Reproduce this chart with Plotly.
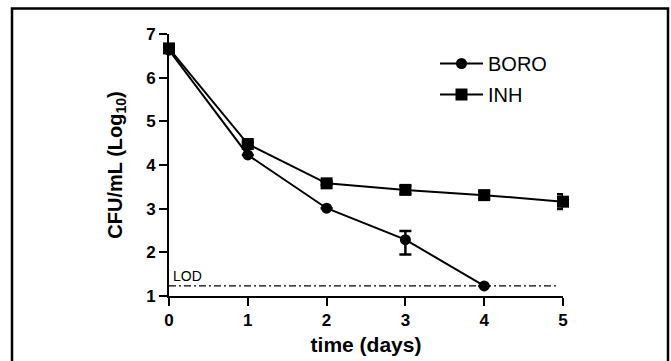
import plotly.graph_objects as go

# ---- data ----
days_boro = [0, 1, 2, 3, 4]
boro = [6.63, 4.23, 3.01, 2.29, 1.23]
boro_err_plus = [0, 0, 0, 0.20, 0]
boro_err_minus = [0, 0, 0, 0.34, 0]

days_inh = [0, 1, 2, 3, 4, 5]
inh = [6.67, 4.48, 3.58, 3.43, 3.31, 3.16]
inh_err = [0.05, 0.04, 0.04, 0.09, 0.09, 0.17]

lod_x = [0, 4.95]
lod_value = 1.23

x_ticks = [0, 1, 2, 3, 4, 5]
y_ticks = [1, 2, 3, 4, 5, 6, 7]

W, H = 671, 361
ML, MR, MT, MB = 169, 108, 34, 65
PW, PH = W - ML - MR, H - MT - MB

def px_to_paper_x(px):
    return (px - ML) / PW

def px_to_paper_y(py):
    return (H - MB - py) / PH

FONT = "Liberation Sans, Arial, sans-serif"

fig = go.Figure()

fig.add_trace(go.Scatter(
    x=lod_x, y=[lod_value] * len(lod_x), mode="lines",
    line=dict(color="black", width=1.3, dash="7px,3px,2px,3px"),
    showlegend=False, hoverinfo="skip", cliponaxis=False,
))

fig.add_trace(go.Scatter(
    x=days_boro, y=boro, name="BORO", mode="lines+markers",
    line=dict(color="black", width=2),
    marker=dict(symbol="circle", size=11, color="black"),
    error_y=dict(type="data", symmetric=False, array=boro_err_plus,
                 arrayminus=boro_err_minus, color="black", thickness=2.5, width=6),
    cliponaxis=False, legendgroup="a",
))

fig.add_trace(go.Scatter(
    x=days_inh, y=inh, name="INH", mode="lines+markers",
    line=dict(color="black", width=2),
    marker=dict(symbol="square", size=12, color="black"),
    error_y=dict(type="data", array=inh_err, color="black", thickness=2.5, width=6),
    cliponaxis=False, legendgroup="b",
))

fig.add_annotation(
    x=0, y=lod_value, xref="x", yref="y", text="LOD", showarrow=False,
    xanchor="left", yanchor="bottom", xshift=2, yshift=0,
    font=dict(family=FONT, size=14, color="black"),
)

# outer frame
fig.add_shape(
    type="rect", xref="paper", yref="paper",
    x0=px_to_paper_x(12), x1=px_to_paper_x(668),
    y0=px_to_paper_y(375), y1=px_to_paper_y(8.5),
    line=dict(color="black", width=2.5), fillcolor="rgba(0,0,0,0)",
    layer="above",
)

fig.update_layout(
    width=W, height=H, autosize=False,
    margin=dict(l=ML, r=MR, t=MT, b=MB),
    plot_bgcolor="white", paper_bgcolor="white",
    font=dict(family=FONT, color="black"),
    showlegend=True,
    legend=dict(
        x=px_to_paper_x(435), y=px_to_paper_y(44), xanchor="left", yanchor="top",
        font=dict(family=FONT, size=20, color="black"),
        bgcolor="rgba(0,0,0,0)", borderwidth=0, itemwidth=43,
        tracegroupgap=2,
    ),
    xaxis=dict(
        range=[0, 5], tickvals=x_ticks, showgrid=False, zeroline=False,
        showline=True, linecolor="black", linewidth=2, automargin=False,
        ticks="outside", ticklen=8, tickwidth=2, tickcolor="black",
        tickfont=dict(family=FONT, size=17, color="black", weight="bold"),
        title=dict(text="<b>time (days)</b>", font=dict(family=FONT, size=21, color="black"),
                   standoff=8),
    ),
    yaxis=dict(
        range=[1, 7], tickvals=y_ticks, showgrid=False, zeroline=False,
        showline=True, linecolor="black", linewidth=2, automargin=False,
        ticks="outside", ticklen=8, tickwidth=2, tickcolor="black",
        tickfont=dict(family=FONT, size=17, color="black", weight="bold"),
        title=dict(text="<b>CFU/mL (Log<sub>10</sub>)</b>",
                   font=dict(family=FONT, size=20, color="black"), standoff=18),
    ),
)

fig.write_html("out.html", config={"displayModeBar": False},
               post_script="document.body.style.margin='0';")
